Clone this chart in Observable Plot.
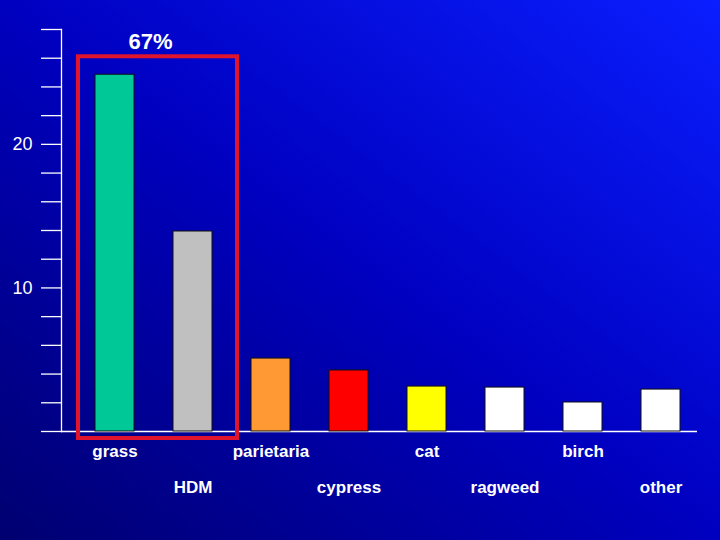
<!DOCTYPE html>
<html>
<head>
<meta charset="utf-8">
<script src="https://cdn.jsdelivr.net/npm/d3@7"></script>
<script src="https://cdn.jsdelivr.net/npm/@observablehq/plot@0.6"></script>
<style>
  html, body { margin: 0; padding: 0; background: #0000a0; }
</style>
</head>
<body>
<div id="chart"></div>
<script>
const categories = ["grass", "HDM", "parietaria", "cypress", "cat", "ragweed", "birch", "other"];
const values = [24.85, 13.93, 5.08, 4.25, 3.13, 3.06, 2.02, 2.92];
const barColors = ["#00c896", "#c0c0c0", "#ff9933", "#ff0000", "#ffff00", "#ffffff", "#ffffff", "#ffffff"];
const yTicks = [0, 2, 4, 6, 8, 10, 12, 14, 16, 18, 20, 22, 24, 26, 28];
const yLabelTicks = [10, 20];
const highlightCats = ["grass", "HDM"];
const highlightLabel = "67%";

const data = categories.map((c, i) => ({cat: c, value: values[i], color: barColors[i], row: i % 2}));
const labelFont = "'Liberation Sans', Arial, sans-serif";

const plot = Plot.plot({
  width: 720,
  height: 540,
  marginLeft: 61,
  marginRight: 18,
  marginTop: 29,
  marginBottom: 109,
  style: {
    background: "linear-gradient(to top right, #000070 0%, #0000c0 50%, #0a1eff 100%)",
    color: "white",
    fontFamily: labelFont
  },
  x: {domain: categories, insetLeft: 12, paddingInner: 0.5, paddingOuter: 0.25, axis: null},
  y: {domain: [0, 28], axis: null},
  color: {type: "identity"},
  marks: [
    Plot.axisY({
      ticks: yTicks,
      label: null,
      tickSize: 20,
      tickPadding: 9,
      stroke: "white",
      strokeOpacity: 1,
      strokeWidth: 1.3,
      fill: "white",
      fontSize: 18,
      tickFormat: d => yLabelTicks.includes(d) ? String(d) : ""
    }),
    Plot.frame({anchor: "left", stroke: "white", strokeWidth: 1.3}),
    Plot.ruleY([0], {stroke: "white", strokeWidth: 1.3, insetRight: 5}),
    Plot.barY(data, {x: "cat", y: "value", fill: "color", stroke: "#101010", strokeWidth: 1}),
    Plot.text(data.filter(d => d.row === 0), {
      x: "cat", y: () => 0, text: "cat", dy: 20, lineAnchor: "middle",
      fill: "white", fontSize: 17, fontWeight: "bold", fontFamily: labelFont
    }),
    Plot.text(data.filter(d => d.row === 1), {
      x: "cat", y: () => 0, text: "cat", dy: 56, lineAnchor: "middle",
      fill: "white", fontSize: 17, fontWeight: "bold", fontFamily: labelFont
    })
  ]
});

// highlight box + label, positioned from the plot's scales
const xs = plot.scale("x");
const ys = plot.scale("y");
const bw = xs.bandwidth;
const bx1 = xs.apply(highlightCats[0]) - 17;
const bx2 = xs.apply(highlightCats[1]) + bw + 25;
const by1 = ys.apply(26.1);
const by2 = ys.apply(0) + 7;
const ns = "http://www.w3.org/2000/svg";
const rect = document.createElementNS(ns, "rect");
rect.setAttribute("x", bx1);
rect.setAttribute("y", by1);
rect.setAttribute("width", bx2 - bx1);
rect.setAttribute("height", by2 - by1);
rect.setAttribute("fill", "none");
rect.setAttribute("stroke", "#e0142d");
rect.setAttribute("stroke-width", 4);
plot.appendChild(rect);
const lab = document.createElementNS(ns, "text");
lab.setAttribute("x", (bx1 + bx2) / 2 - 7);
lab.setAttribute("y", ys.apply(27.1));
lab.setAttribute("text-anchor", "middle");
lab.setAttribute("dominant-baseline", "central");
lab.setAttribute("fill", "white");
lab.setAttribute("font-size", 22);
lab.setAttribute("font-weight", "bold");
lab.setAttribute("font-family", labelFont);
lab.textContent = highlightLabel;
plot.appendChild(lab);

document.getElementById("chart").appendChild(plot);
</script>
</body>
</html>
